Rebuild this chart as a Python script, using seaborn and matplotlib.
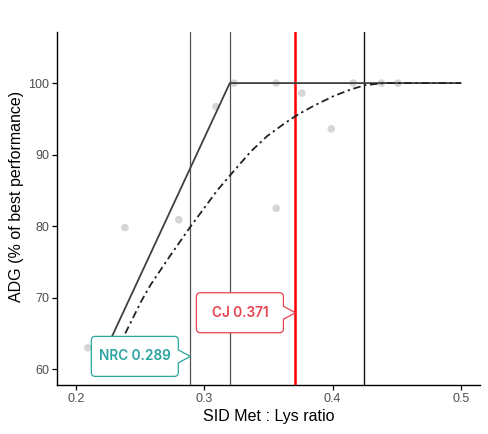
import matplotlib
matplotlib.use("Agg")
import numpy as np
import pandas as pd
import matplotlib.pyplot as plt
import matplotlib.transforms as mtransforms
from matplotlib.path import Path
from matplotlib.patches import PathPatch
import seaborn as sns

# ---- data ----
obs_x = [0.209, 0.238, 0.280, 0.309, 0.323, 0.356, 0.356, 0.376, 0.399, 0.416, 0.438, 0.451]
obs_y = [63.0, 79.8, 80.9, 96.7, 100.0, 100.0, 82.5, 98.6, 93.6, 100.0, 100.0, 100.0]

broken_x = [0.216, 0.3198, 0.500]
broken_y = [60.0, 100.0, 100.0]

curve_x = [0.224, 0.236, 0.241, 0.251, 0.258, 0.273, 0.289, 0.310, 0.320, 0.336,
           0.349, 0.362, 0.372, 0.385, 0.401, 0.414, 0.425, 0.440, 0.500]
curve_y = [60.0, 64.2, 66.0, 69.6, 71.8, 75.8, 79.9, 85.0, 87.1, 90.4,
           92.6, 94.3, 95.5, 96.8, 98.2, 99.1, 99.7, 100.0, 100.0]

vline_x = [0.289, 0.3198, 0.371, 0.4245]
vline_col = ["#555555", "#555555", "#ff0000", "#111111"]
vline_lw = [0.9, 0.9, 1.8, 1.0]

label_names = ["NRC", "CJ"]
label_x = [0.289, 0.371]
label_y = [61.8, 67.9]
label_col = ["#29A39E", "#E8414F"]

x_ticks = [0.2, 0.3, 0.4, 0.5]
y_ticks = [60, 70, 80, 90, 100]

# ---- style ----
sns.set_theme(style="ticks")
plt.rcParams['font.family'] = ['Liberation Sans', 'DejaVu Sans']

W, H = 489, 434
fig = plt.figure(figsize=(W / 100, H / 100), dpi=100)
ax = fig.add_axes([57 / W, 49 / H, 423 / W, (385 - 32.3) / H])

obs = pd.DataFrame({"x": obs_x, "y": obs_y})
sns.scatterplot(data=obs, x="x", y="y", ax=ax, color="#d6d6d6", s=30,
                edgecolor="none", zorder=2)

for xv, c, lw in zip(vline_x, vline_col, vline_lw):
    ax.axvline(xv, color=c, lw=lw, zorder=3)

bl = pd.DataFrame({"x": broken_x, "y": broken_y})
sns.lineplot(data=bl, x="x", y="y", ax=ax, color="#404040", lw=1.3,
             sort=False, estimator=None, zorder=4)

cv = pd.DataFrame({"x": curve_x, "y": curve_y})
sns.lineplot(data=cv, x="x", y="y", ax=ax, color="#222222", lw=1.3,
             sort=False, estimator=None, zorder=4)
ax.lines[-1].set_dashes([1.3, 2.0, 4.2, 2.0])

# callout labels (sizes in pixels relative to the arrow tip)
def callout_path(wbox=87, hbox=40, gap=12, notch=6.5, r=4):
    R = -gap
    L = R - wbox
    T = hbox / 2
    B = -hbox / 2
    verts = [(L + r, B), (R - r, B), (R, B), (R, B + r), (R, -notch), (0, 0),
             (R, notch), (R, T - r), (R, T), (R - r, T), (L + r, T), (L, T),
             (L, T - r), (L, B + r), (L, B), (L + r, B), (L + r, B)]
    codes = [Path.MOVETO, Path.LINETO, Path.CURVE3, Path.CURVE3, Path.LINETO,
             Path.LINETO, Path.LINETO, Path.LINETO, Path.CURVE3, Path.CURVE3,
             Path.LINETO, Path.CURVE3, Path.CURVE3, Path.LINETO, Path.CURVE3,
             Path.CURVE3, Path.CLOSEPOLY]
    verts = [(vx / 100.0, vy / 100.0) for vx, vy in verts]
    return Path(verts, codes), (L + R) / 2 / 100.0

for name, xv, yv, c in zip(label_names, label_x, label_y, label_col):
    p, cx = callout_path()
    trans = fig.dpi_scale_trans + mtransforms.ScaledTranslation(xv, yv, ax.transData)
    ax.add_patch(PathPatch(p, transform=trans, facecolor="white", edgecolor=c,
                           lw=0.9, zorder=6, clip_on=False))
    ax.text(cx, 0, f"{name} {xv:.3f}", transform=trans, ha="center", va="center",
            color=c, fontsize=9.8, fontweight="semibold",
            family=["Inter", "DejaVu Sans"], zorder=7)

ax.set_xlim(0.185, 0.515)
ax.set_ylim(57.8, 107.1)
ax.set_xticks(x_ticks)
ax.set_xticklabels([f"{t:.1f}" for t in x_ticks])
ax.set_yticks(y_ticks)
ax.set_yticklabels([str(t) for t in y_ticks])
ax.tick_params(axis="both", colors="black", labelcolor="#4d4d4d", labelsize=9,
               length=3.5, width=0.9, pad=2)
for s in ["top", "right"]:
    ax.spines[s].set_visible(False)
for s in ["left", "bottom"]:
    ax.spines[s].set_color("black")
    ax.spines[s].set_linewidth(1.0)

ax.set_xlabel("SID Met : Lys ratio", fontsize=11.5, color="black", labelpad=3)
ax.set_ylabel("ADG (% of best performance)", fontsize=11.5, color="black")
ax.yaxis.set_label_coords(-0.079, 0.534)
ax.grid(False)

fig.savefig("out.png", dpi=100, facecolor="white")
